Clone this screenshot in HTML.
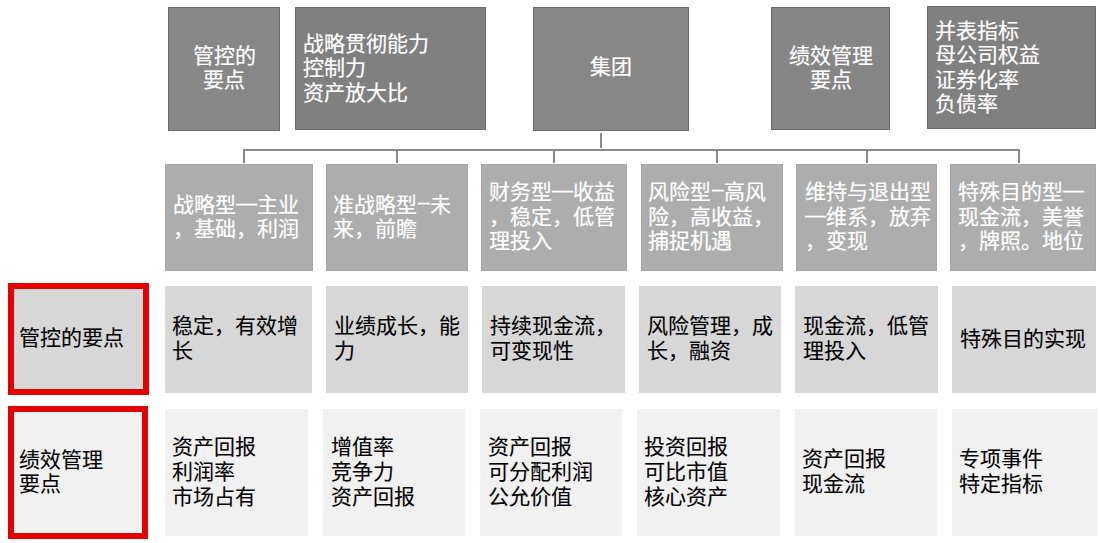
<!DOCTYPE html>
<html lang="zh-CN"><head><meta charset="utf-8">
<style>
html,body{margin:0;padding:0;background:#fff;width:1100px;height:543px;overflow:hidden;}
body{position:relative;font-family:"Liberation Sans",sans-serif;}
.b{position:absolute;box-sizing:border-box;display:flex;flex-direction:column;justify-content:center;font-size:21px;-webkit-text-stroke:0.2px currentColor;line-height:24.5px;white-space:nowrap;}
.t{background:#808080;color:#fff;border:1px solid #6a6a6a;}
.r2{background:#adadad;color:#fff;border:1px solid #a6a6a6;padding-bottom:1px;}
.d{position:relative;top:-2px;}
.e{position:relative;top:-3px;margin-left:1px;}
.r3{background:#d7d7d7;color:#000;-webkit-text-stroke:0.1px #000;padding-bottom:2px;}
.r4{background:#f1f1f1;color:#000;-webkit-text-stroke:0.1px #000;line-height:25px;padding-bottom:3px;}
.c{align-items:center;text-align:center;}
.ln{position:absolute;background:#8a8a8a;}
.red{position:absolute;box-sizing:border-box;border:6px solid #e20000;display:flex;flex-direction:column;justify-content:center;font-size:21px;-webkit-text-stroke:0.1px #000;line-height:24px;padding-left:5px;padding-bottom:2px;color:#000;}
</style></head><body>
<!-- top row -->
<div class="b t c" style="left:168px;top:7px;width:112px;height:124px;background:#878787;padding-bottom:2px;"><div>管控的<br>要点</div></div>
<div class="b t" style="left:295px;top:7px;width:191px;height:123px;padding-left:7px;"><div>战略贯彻能力<br>控制力<br>资产放大比</div></div>
<div class="b t c" style="left:533px;top:7px;width:156px;height:124px;padding-right:1px;padding-bottom:3px;background:#878787;"><div>集团</div></div>
<div class="b t c" style="left:771px;top:7px;width:119px;height:123px;padding-bottom:1px;background:#868686;"><div>绩效管理<br>要点</div></div>
<div class="b t" style="left:927px;top:6px;width:169px;height:123px;padding-left:7px;"><div>并表指标<br>母公司权益<br>证券化率<br>负债率</div></div>

<!-- connectors -->
<div class="ln" style="left:600px;top:133px;width:2px;height:15px;"></div>
<div class="ln" style="left:243px;top:149px;width:777px;height:2px;"></div>
<div class="ln" style="left:243px;top:150px;width:2px;height:13px;"></div>
<div class="ln" style="left:396px;top:150px;width:2px;height:13px;"></div>
<div class="ln" style="left:553px;top:150px;width:2px;height:13px;"></div>
<div class="ln" style="left:716px;top:150px;width:2px;height:13px;"></div>
<div class="ln" style="left:866px;top:150px;width:2px;height:13px;"></div>
<div class="ln" style="left:1018px;top:150px;width:2px;height:13px;"></div>

<!-- row 2 -->
<div class="b r2" style="left:165px;top:164px;width:148px;height:107px;padding-left:7px;"><div>战略型<span class="d">—</span>主业<br>，基础，利润</div></div>
<div class="b r2" style="left:326px;top:164px;width:142px;height:107px;padding-left:6px;"><div>准战略型<span class="e">–</span>未<br>来，前瞻</div></div>
<div class="b r2" style="left:481px;top:164px;width:146px;height:107px;padding-left:7px;"><div>财务型<span class="d">—</span>收益<br>，稳定，低管<br>理投入</div></div>
<div class="b r2" style="left:641px;top:164px;width:142px;height:107px;padding-left:6px;"><div>风险型<span class="e">–</span>高风<br>险，高收益，<br>捕捉机遇</div></div>
<div class="b r2" style="left:796px;top:164px;width:141px;height:107px;padding-left:8px;"><div>维持与退出型<br><span class="d">—</span>维系，放弃<br>，变现</div></div>
<div class="b r2" style="left:950px;top:164px;width:146px;height:107px;padding-left:7px;"><div>特殊目的型<span class="d">—</span><br>现金流，美誉<br>，牌照。地位</div></div>

<!-- row 3 -->
<div class="red" style="left:8px;top:283px;width:141px;height:112px;background:#d7d7d7;"><div>管控的要点</div></div>
<div class="b r3" style="left:165px;top:286px;width:147px;height:107px;padding-left:7px;"><div>稳定，有效增<br>长</div></div>
<div class="b r3" style="left:326px;top:286px;width:142px;height:107px;padding-left:8px;"><div>业绩成长，能<br>力</div></div>
<div class="b r3" style="left:482px;top:286px;width:143px;height:107px;padding-left:7.6px;"><div>持续现金流，<br>可变现性</div></div>
<div class="b r3" style="left:639px;top:286px;width:142px;height:107px;padding-left:8px;"><div>风险管理，成<br>长，融资</div></div>
<div class="b r3" style="left:795px;top:286px;width:143px;height:107px;padding-left:8px;"><div>现金流，低管<br>理投入</div></div>
<div class="b r3" style="left:952px;top:286px;width:144px;height:107px;padding-left:8px;padding-bottom:0;"><div>特殊目的实现</div></div>

<!-- row 4 -->
<div class="red" style="left:8px;top:406px;width:140px;height:133px;background:#f1f1f1;"><div>绩效管理<br>要点</div></div>
<div class="b r4" style="left:165px;top:409px;width:143px;height:127px;padding-left:7px;"><div>资产回报<br>利润率<br>市场占有</div></div>
<div class="b r4" style="left:323px;top:409px;width:142px;height:127px;padding-left:8px;"><div>增值率<br>竞争力<br>资产回报</div></div>
<div class="b r4" style="left:480px;top:409px;width:142px;height:127px;padding-left:8px;"><div>资产回报<br>可分配利润<br>公允价值</div></div>
<div class="b r4" style="left:637px;top:409px;width:143px;height:127px;padding-left:7px;"><div>投资回报<br>可比市值<br>核心资产</div></div>
<div class="b r4" style="left:795px;top:409px;width:142px;height:127px;padding-left:7px;"><div>资产回报<br>现金流</div></div>
<div class="b r4" style="left:952px;top:409px;width:145px;height:127px;padding-left:7px;"><div>专项事件<br>特定指标</div></div>
</body></html>
